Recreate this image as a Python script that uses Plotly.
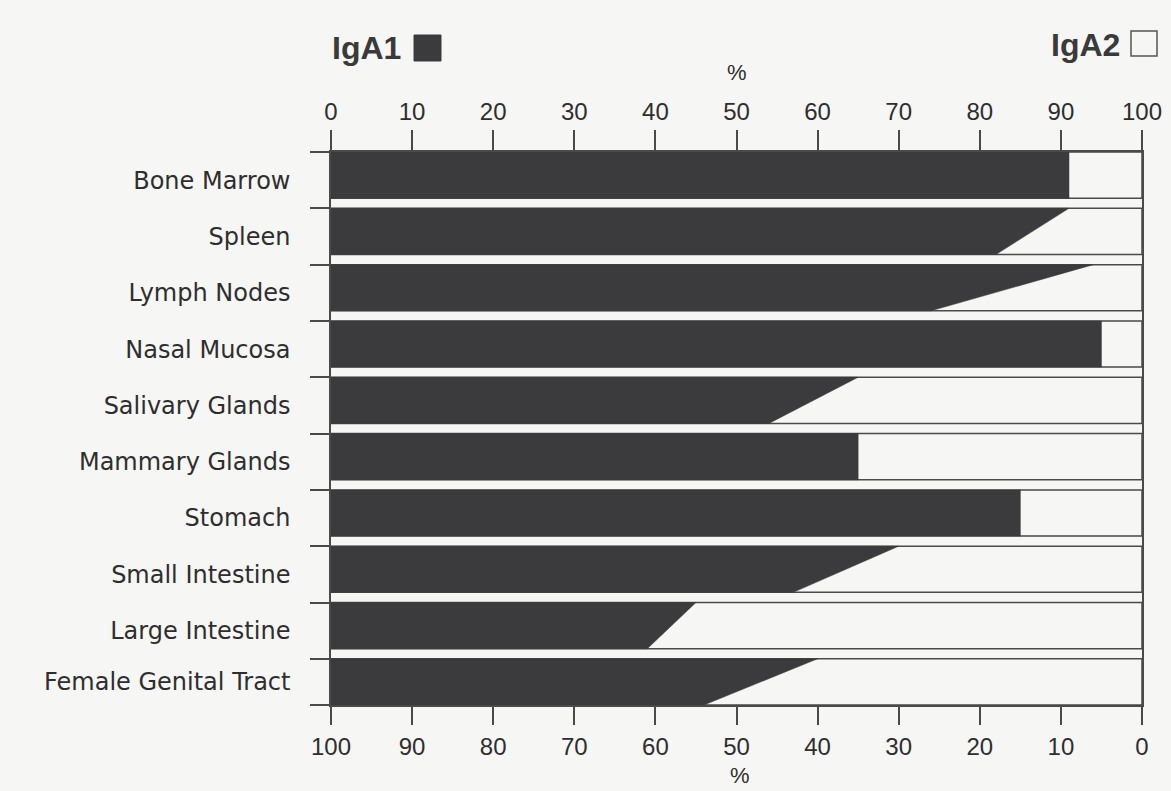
import plotly.graph_objects as go

# ---- data ----
categories = ["Bone Marrow", "Spleen", "Lymph Nodes", "Nasal Mucosa", "Salivary Glands",
              "Mammary Glands", "Stomach", "Small Intestine", "Large Intestine",
              "Female Genital Tract"]
# IgA1 percentage at the upper and lower edge of each bar (ranges drawn as slanted edges)
iga1_upper = [91, 91, 94, 95, 65, 65, 85, 70, 45, 60]
iga1_lower = [91, 82, 74, 95, 54, 65, 85, 57, 39, 46]
top_ticks = [0, 10, 20, 30, 40, 50, 60, 70, 80, 90, 100]
bottom_ticks = [100, 90, 80, 70, 60, 50, 40, 30, 20, 10, 0]
axis_unit = "%"

# ---- styling / layout constants ----
BOX_H = 0.82
DARK = "#3b3b3d"
LINE = "#4a4a4a"
TXT = "#2e2e2e"
BG = "#f6f6f4"

W, H = 1171, 791
ML, MR, MT, MB = 331, 29, 152, 86
PW, PH = W - ML - MR, H - MT - MB

def px_to_paper(px, py):
    return (px - ML) / PW, (H - MB - py) / PH

fig = go.Figure()

n = len(categories)
for i in range(n):
    y0, y1 = i, i + BOX_H
    # outline box 0..100
    fig.add_trace(go.Scatter(x=[0, 100, 100, 0, 0], y=[y0, y0, y1, y1, y0], mode="lines",
                             line=dict(color=LINE, width=1.5), hoverinfo="skip",
                             showlegend=False))
    # IgA1 dark area
    fig.add_trace(go.Scatter(x=[0, iga1_upper[i], iga1_lower[i], 0, 0],
                             y=[y0, y0, y1, y1, y0], mode="lines", fill="toself",
                             fillcolor=DARK, line=dict(color=DARK, width=0.5),
                             hoverinfo="skip", showlegend=False))

# invisible trace so the bottom (IgA2) axis is drawn
fig.add_trace(go.Scatter(x=[100, 0], y=[0, 0], xaxis="x2", mode="markers",
                         marker=dict(opacity=0), hoverinfo="skip", showlegend=False))

boundaries = list(range(n)) + [n - 1 + BOX_H]
centers = [(boundaries[k] + boundaries[k + 1]) / 2 for k in range(n)]

tickfont = dict(family="Liberation Sans, Arial, sans-serif", size=24, color=TXT)
unitfont = dict(family="Liberation Sans, Arial, sans-serif", size=22, color=TXT)

fig.update_layout(
    width=W, height=H,
    margin=dict(l=ML, r=MR, t=MT, b=MB, autoexpand=False),
    paper_bgcolor=BG, plot_bgcolor=BG,
    xaxis=dict(side="top", range=[0, 100], tickvals=top_ticks, ticks="outside",
               ticklen=20, tickwidth=1.5, tickcolor=LINE, showline=True,
               linecolor=LINE, linewidth=1.5, showgrid=False, zeroline=False,
               tickfont=tickfont, ticklabelstandoff=1, automargin=False),
    xaxis2=dict(overlaying="x", side="bottom", anchor="y", range=[100, 0],
                tickvals=bottom_ticks, ticks="outside", ticklen=18, tickwidth=1.5,
                tickcolor=LINE, showline=True, linecolor=LINE, linewidth=1.5,
                showgrid=False, zeroline=False, tickfont=tickfont, ticklabelstandoff=1,
                automargin=False),
    yaxis=dict(range=[n - 1 + BOX_H, 0], tickvals=centers, ticktext=categories,
               ticks="", showline=True, mirror=True, linecolor=LINE, linewidth=1.5,
               showgrid=False, zeroline=False, ticklabelstandoff=34, automargin=False,
               tickfont=dict(family="DejaVu Sans, sans-serif", size=24, color=TXT),
               minor=dict(tickvals=boundaries, ticks="outside", ticklen=19,
                          tickwidth=1.5, tickcolor=LINE, showgrid=False)),
    showlegend=False,
)

# axis unit labels ("%") above the top axis and below the bottom axis
for (px, py) in [(737, 72), (740, 775)]:
    ux, uy = px_to_paper(px, py)
    fig.add_annotation(text=axis_unit, x=ux, y=uy, xref="paper", yref="paper",
                       xanchor="center", yanchor="middle", showarrow=False,
                       borderpad=0, font=unitfont)

# legend-like headers
lx, ly = px_to_paper(330, 48)
fig.add_annotation(text="<b>IgA1</b>", x=lx, y=ly, xref="paper", yref="paper",
                   xanchor="left", yanchor="middle", showarrow=False,
                   font=dict(family="Liberation Sans, Arial, sans-serif", size=32, color="#3a3a3a"))
rx, ry = px_to_paper(1122, 45)
fig.add_annotation(text="<b>IgA2</b>", x=rx, y=ry, xref="paper", yref="paper",
                   xanchor="right", yanchor="middle", showarrow=False,
                   font=dict(family="Liberation Sans, Arial, sans-serif", size=32, color="#3a3a3a"))
ax0, ay1 = px_to_paper(414, 35)
ax1, ay0 = px_to_paper(441, 61)
fig.add_shape(type="rect", xref="paper", yref="paper", x0=ax0, x1=ax1, y0=ay0, y1=ay1,
              fillcolor=DARK, line=dict(color=DARK, width=1))
bx0, by1 = px_to_paper(1131, 31)
bx1, by0 = px_to_paper(1157, 56)
fig.add_shape(type="rect", xref="paper", yref="paper", x0=bx0, x1=bx1, y0=by0, y1=by1,
              fillcolor=BG, line=dict(color="#555555", width=1.5))

fig.write_html("out.html", config={"displayModeBar": False},
               post_script="document.body.style.margin='0';"
                           "document.body.style.background='" + BG + "';")
